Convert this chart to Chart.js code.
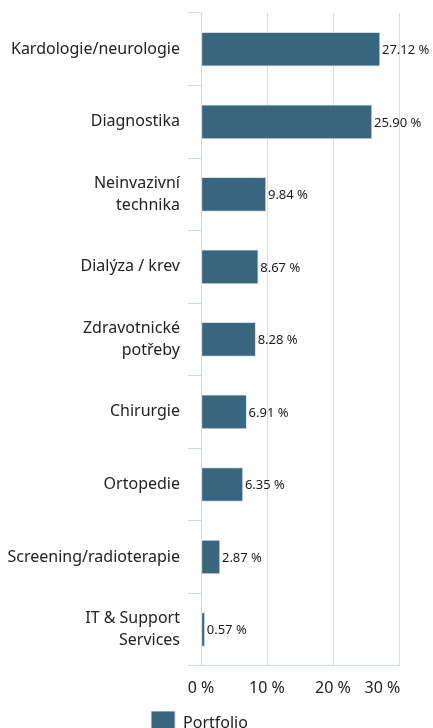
<!DOCTYPE html>
<html>
<head>
<meta charset="utf-8">
<script src="https://cdn.jsdelivr.net/npm/chart.js@4"></script>
<style>
    html, body { margin: 0; padding: 0; background: #fff; overflow: hidden; }
    #chart { display: block; }
</style>
</head>
<body>
<canvas id="chart" width="433" height="745"></canvas>
<script>
var categories = [
    'Kardologie/neurologie',
    'Diagnostika',
    ['Neinvazivní', 'technika'],
    'Dialýza / krev',
    ['Zdravotnické', 'potřeby'],
    'Chirurgie',
    'Ortopedie',
    'Screening/radioterapie',
    ['IT & Support', 'Services']
];
var portfolio = [27.12, 25.90, 9.84, 8.67, 8.28, 6.91, 6.35, 2.87, 0.57];
var xTicks = [0, 10, 20, 30];
var seriesName = 'Portfolio';

var fontFamily = '"Noto Sans", "Open Sans", sans-serif';
var barColor = '#37667e';
var axisBlue = '#cdd8ea';

// etiquetas al final de cada barra
var valueLabels = {
    id: 'valueLabels',
    afterDatasetsDraw: function(chart) {
        let ctx = chart.ctx;
        let meta = chart.getDatasetMeta(0);
        ctx.save();
        ctx.font = '13px ' + fontFamily;
        ctx.fillStyle = '#1a1a1a';
        ctx.textBaseline = 'middle';
        ctx.textAlign = 'left';
        meta.data.forEach((bar, i) => {
            let val = chart.data.datasets[0].data[i];
            ctx.fillText(val.toFixed(2) + ' %', bar.x + 2, bar.y + 1);
        });
        ctx.restore();
    }
};

new Chart(document.getElementById('chart').getContext('2d'), {
    type: 'bar',
    data: {
        labels: categories,
        datasets: [{
            label: seriesName,
            data: portfolio,
            backgroundColor: barColor,
            borderColor: '#d5dfe8',
            borderWidth: 1,
            borderSkipped: false,
            barThickness: 34
        }]
    },
    options: {
        indexAxis: 'y',
        responsive: false,
        animation: false,
        layout: {
            padding: { top: 13, right: 34, left: 0, bottom: 0 }
        },
        plugins: {
            legend: {
                display: true,
                position: 'bottom',
                labels: {
                    boxWidth: 24,
                    boxHeight: 24,
                    color: '#222',
                    font: { size: 16, family: fontFamily },
                    padding: 0
                }
            },
            tooltip: { enabled: false }
        },
        scales: {
            y: {
                grid: {
                    offset: true,
                    drawOnChartArea: false,
                    drawTicks: true,
                    tickLength: 13,
                    color: axisBlue
                },
                border: { color: axisBlue },
                ticks: {
                    color: '#222',
                    padding: 8,
                    font: { size: 16, family: fontFamily, lineHeight: 1.4 }
                },
                afterFit: function(scale) {
                    scale.width = 201;
                    scale.paddingTop = 0;
                    scale.paddingBottom = 0;
                }
            },
            x: {
                min: 0,
                max: 30,
                afterBuildTicks: function(scale) {
                    scale.ticks = xTicks.map(v => ({ value: v }));
                },
                afterFit: function(scale) {
                    scale.paddingRight = 0;
                },
                grid: {
                    drawTicks: false,
                    color: '#dcdcdc'
                },
                border: { color: axisBlue },
                ticks: {
                    color: '#222',
                    padding: 13,
                    maxRotation: 0,
                    autoSkip: false,
                    font: { size: 16, family: fontFamily },
                    callback: function(v) {
                        // la ultima etiqueta va corrida a la izquierda
                        return v === 30 ? v + ' %' + '\u00a0'.repeat(8) : v + ' %';
                    }
                }
            }
        }
    },
    plugins: [valueLabels]
});
</script>
</body>
</html>
